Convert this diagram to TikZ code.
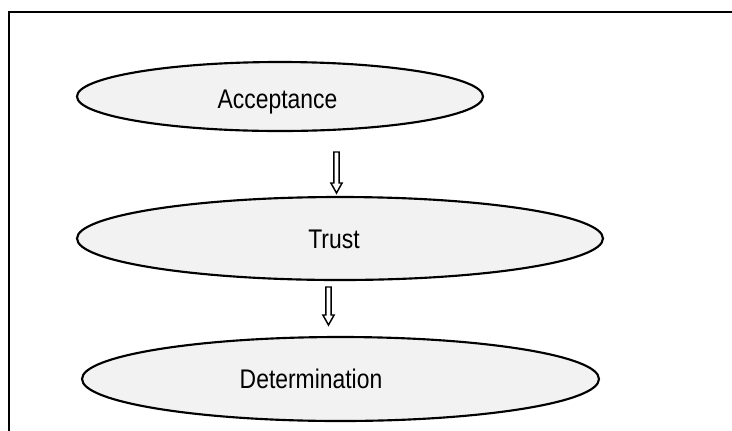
\documentclass[tikz,border=0pt]{standalone}
\usepackage{fontspec}
\setmainfont{Liberation Sans}[FakeStretch=0.85]
\usetikzlibrary{shapes.geometric,calc}
\definecolor{ellfill}{HTML}{F2F2F2}
\tikzset{
  ell/.style={ellipse, draw=black, line width=1.6pt, fill=ellfill, inner sep=0pt},
  lbl/.style={anchor=base, inner sep=0pt, font=\fontsize{20.2}{24}\selectfont},
  frameline/.style={line width=1.5pt, line cap=rect},
  hollow/.style={draw=black, line width=1.1pt, fill=white, line join=miter}
}
\begin{document}
\begin{tikzpicture}[x=0.75pt,y=-0.75pt]
\useasboundingbox (0,0) rectangle (732,430);
\coordinate (fr1) at (732,12);
\coordinate (fr2) at (9,12);
\coordinate (fr3) at (9,432);
\draw[frameline] (fr1) -- (fr2) -- (fr3);

\node[ell, minimum width=304.5pt, minimum height=51.75pt] (e1) at (280,96.5) {};
\node[ell, minimum width=394.5pt, minimum height=62.25pt] (e2) at (340,238.5) {};
\node[ell, minimum width=387.75pt, minimum height=63pt] (e3) at (340.5,379) {};

\node[lbl] (t1) at (277.5,108) {Acceptance};
\node[lbl] (t2) at (334,248) {Trust};
\node[lbl] (t3) at (311,388) {Determination};

\coordinate (a1s) at (336.5,152);
\coordinate (a1e) at (336.5,193);
\coordinate (a2s) at (328.5,287);
\coordinate (a2e) at (328.5,325);
\draw[hollow] ($(a1s)+(-2.6,0)$) -- ($(a1s)+(2.6,0)$) -- ($(a1e)+(2.6,-10)$) -- ($(a1e)+(5.6,-10)$) -- (a1e) -- ($(a1e)+(-5.6,-10)$) -- ($(a1e)+(-2.6,-10)$) -- cycle;
\draw[hollow] ($(a2s)+(-2.6,0)$) -- ($(a2s)+(2.6,0)$) -- ($(a2e)+(2.6,-10)$) -- ($(a2e)+(5.6,-10)$) -- (a2e) -- ($(a2e)+(-5.6,-10)$) -- ($(a2e)+(-2.6,-10)$) -- cycle;
\end{tikzpicture}
\end{document}
